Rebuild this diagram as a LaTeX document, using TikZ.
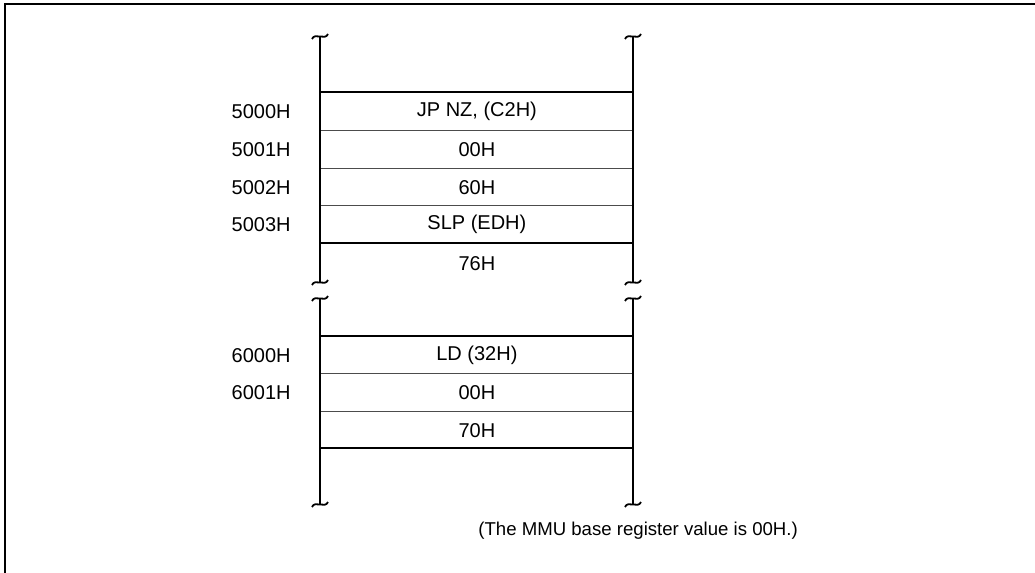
\documentclass[tikz,border=0pt]{standalone}
\usepackage{fontspec}
\setmainfont{Liberation Sans}
\usepackage{tikz}
\usetikzlibrary{positioning,calc}

\begin{document}
\begin{tikzpicture}[
  x=0.5pt, y=-0.5pt,
  font=\fontsize{10}{12}\selectfont,
  cell/.style={minimum width=156.5pt, minimum height=18.9pt, inner sep=0pt, anchor=north west},
  addr/.style={inner sep=0pt},
  thin/.style={line width=0.5pt, draw=black!70},
  bold/.style={line width=1pt},
  wall/.style={line width=0.9pt},
  tilde/.pic={\draw[line width=0.9pt] (-8,3) .. controls (-5,-4) and (5,5) .. (8,-2);}
]
  \useasboundingbox (0,0) rectangle (1035,573);
  \draw[line width=1pt] (1035,4) -- (5,4) -- (5,573);

  % upper block
  \node[cell] (c5000) at (320,92) {JP NZ, (C2H)};
  \node[cell] (c5001) at (320,130) {00H};
  \node[cell] (c5002) at (320,168) {60H};
  \node[cell] (c5003) at (320,205) {SLP (EDH)};
  \node[cell, minimum height=20pt] (c5004) at (320,243) {76H};
  \node[addr, left=14.5pt of c5000] (a5000) {5000H};
  \node[addr, left=14.5pt of c5001] (a5001) {5001H};
  \node[addr, left=14.5pt of c5002] (a5002) {5002H};
  \node[addr, left=14.5pt of c5003] (a5003) {5003H};
  \draw[bold] (c5000.north west) -- (c5000.north east);
  \draw[thin] (c5001.north west) -- (c5001.north east);
  \draw[thin] (c5002.north west) -- (c5002.north east);
  \draw[thin] (c5003.north west) -- (c5003.north east);
  \draw[bold] (c5004.north west) -- (c5004.north east);
  \coordinate (t1l) at (320,36);
  \coordinate (t1r) at (633,36);
  \coordinate (b1l) at (320,282);
  \coordinate (b1r) at (633,282);
  \draw[wall] (t1l) -- (b1l);
  \draw[wall] (t1r) -- (b1r);
  \pic at (t1l) {tilde};
  \pic at (t1r) {tilde};
  \pic at (b1l) {tilde};
  \pic at (b1r) {tilde};

  % lower block
  \node[cell] (c6000) at (320,336) {LD (32H)};
  \node[cell] (c6001) at (320,373) {00H};
  \node[cell] (c6002) at (320,411) {70H};
  \node[cell] (c6003) at (320,448) {};
  \node[addr, left=14.5pt of c6000] (a6000) {6000H};
  \node[addr, left=14.5pt of c6001] (a6001) {6001H};
  \draw[bold] (c6000.north west) -- (c6000.north east);
  \draw[thin] (c6001.north west) -- (c6001.north east);
  \draw[thin] (c6002.north west) -- (c6002.north east);
  \draw[bold] (c6003.north west) -- (c6003.north east);
  \coordinate (t2l) at (320,298);
  \coordinate (t2r) at (633,298);
  \coordinate (b2l) at (320,504);
  \coordinate (b2r) at (633,504);
  \draw[wall] (t2l) -- (b2l);
  \draw[wall] (t2r) -- (b2r);
  \pic at (t2l) {tilde};
  \pic at (t2r) {tilde};
  \pic at (b2l) {tilde};
  \pic at (b2r) {tilde};

  \node[anchor=west, inner sep=0pt, font=\fontsize{9.3}{11}\selectfont] (note) at (478,531) {(The MMU base register value is 00H.)};
\end{tikzpicture}
\end{document}
